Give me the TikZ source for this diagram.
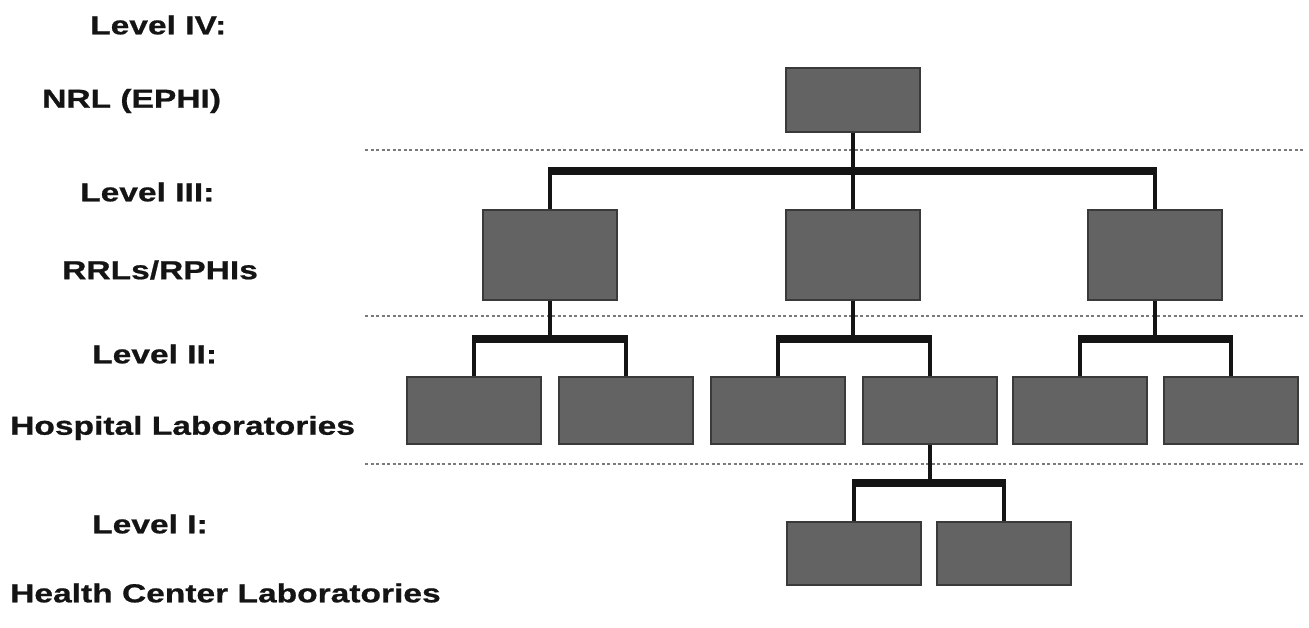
\documentclass[tikz,border=0pt]{standalone}
\usepackage{fontspec}
\newfontfamily\labfont{Liberation Sans}[FakeStretch=1.29,FakeBold=0.8]
\definecolor{boxgray}{HTML}{636363}
\definecolor{boxedge}{HTML}{3A3A3A}
\definecolor{linek}{HTML}{141414}
\definecolor{dotgray}{HTML}{7A7A7A}
\tikzset{
  lab/.style={anchor=west, inner sep=0pt, font=\labfont\bfseries\fontsize{26}{30}\selectfont, text=linek},
  box/.style={draw=boxedge, line width=1.2pt, fill=boxgray, inner sep=0pt, minimum width=134, minimum height=#1},
  box/.default=66,
  stem/.style={draw=linek, line width=4pt},
  bar/.style={draw=linek, line width=8pt},
  sep/.style={draw=dotgray, line width=2pt, dash pattern=on 3pt off 2.5pt},
}
\begin{document}
\begin{tikzpicture}[x=1pt,y=-1pt]
\useasboundingbox (0,0) rectangle (1309,627);
% level labels
\node[lab] (l4)  at (90,25)  {Level IV:};
\node[lab] (nrl) at (42,101) {NRL (EPHI)};
\node[lab] (l3)  at (80,192) {Level III:};
\node[lab] (rrl) at (62,270) {RRLs/RPHIs};
\node[lab] (l2)  at (92,354) {Level II:};
\node[lab] (hos) at (10,428) {Hospital Laboratories};
\node[lab] (l1)  at (92,524) {Level I:};
\node[lab] (hcl) at (10,593) {Health Center Laboratories};
% separators
\coordinate (s1a) at (365,150); \coordinate (s1b) at (1305,150);
\coordinate (s2a) at (365,316); \coordinate (s2b) at (1305,316);
\coordinate (s3a) at (365,464); \coordinate (s3b) at (1305,464);
\draw[sep] (s1a) -- (s1b);
\draw[sep] (s2a) -- (s2b);
\draw[sep] (s3a) -- (s3b);
% boxes
\node[box=64] (top) at (853,100) {};
\node[box=90] (r1) at (550,255) {};
\node[box=90] (r2) at (853,255) {};
\node[box=90] (r3) at (1155,255) {};
\node[box=67] (h1) at (474,410.5) {};
\node[box=67] (h2) at (626,410.5) {};
\node[box=67] (h3) at (778,410.5) {};
\node[box=67] (h4) at (930,410.5) {};
\node[box=67] (h5) at (1080,410.5) {};
\node[box=67] (h6) at (1231,410.5) {};
\node[box=63] (c1) at (854,553.5) {};
\node[box=63] (c2) at (1004,553.5) {};
% bar coordinates
\coordinate (b4) at (853,171);
\coordinate (b3a) at (550,339);
\coordinate (b3b) at (853,339);
\coordinate (b3c) at (1155,339);
\coordinate (b2) at (930,483);
% level IV -> III
\draw[stem] (top.south) -- (b4);
\draw[stem] (b4) -- (r2.north);
\draw[stem] (r1.north |- b4) -- (r1.north);
\draw[stem] (r3.north |- b4) -- (r3.north);
\draw[bar] ([xshift=-2pt]r1.north |- b4) -- ([xshift=2pt]r3.north |- b4);
% level III -> II
\draw[stem] (r1.south) -- (b3a);
\draw[stem] (r2.south) -- (b3b);
\draw[stem] (r3.south) -- (b3c);
\draw[stem] (h1.north |- b3a) -- (h1.north);
\draw[stem] (h2.north |- b3a) -- (h2.north);
\draw[stem] (h3.north |- b3b) -- (h3.north);
\draw[stem] (h4.north |- b3b) -- (h4.north);
\draw[stem] (h5.north |- b3c) -- (h5.north);
\draw[stem] (h6.north |- b3c) -- (h6.north);
\draw[bar] ([xshift=-2pt]h1.north |- b3a) -- ([xshift=2pt]h2.north |- b3a);
\draw[bar] ([xshift=-2pt]h3.north |- b3b) -- ([xshift=2pt]h4.north |- b3b);
\draw[bar] ([xshift=-2pt]h5.north |- b3c) -- ([xshift=2pt]h6.north |- b3c);
% level II -> I
\draw[stem] (h4.south) -- (b2);
\draw[stem] (c1.north |- b2) -- (c1.north);
\draw[stem] (c2.north |- b2) -- (c2.north);
\draw[bar] ([xshift=-2pt]c1.north |- b2) -- ([xshift=2pt]c2.north |- b2);
\end{tikzpicture}
\end{document}
